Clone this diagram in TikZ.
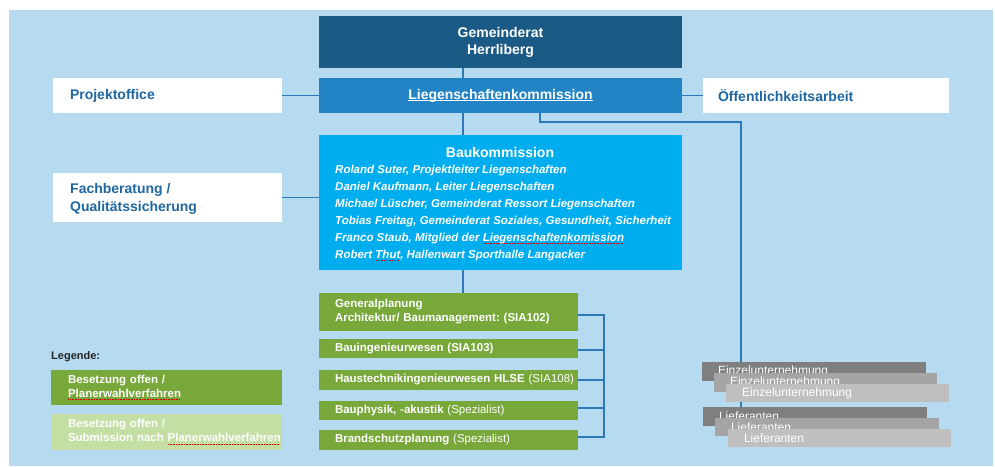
\documentclass[tikz,border=0pt]{standalone}
\usepackage{fontspec}
\setmainfont{Liberation Sans}
\usetikzlibrary{calc}
\frenchspacing
\definecolor{bgblue}{HTML}{B6DBF1}
\definecolor{darkblue}{HTML}{1B5A85}
\definecolor{midblue}{HTML}{2384C5}
\definecolor{cyanblue}{HTML}{00AEEF}
\definecolor{txtblue}{HTML}{1F67A0}
\definecolor{lineblue}{HTML}{2E78B7}
\definecolor{grn}{HTML}{78A83A}
\definecolor{ltgrn}{HTML}{C4DFA3}
\definecolor{gA}{HTML}{7F7F7F}
\definecolor{gB}{HTML}{A5A5A5}
\definecolor{gC}{HTML}{BFBFBF}
\newcommand\spl[1]{\leavevmode\setbox0\hbox{#1}\rlap{\textcolor{red!85!black}{\hbox to \wd0{\leaders\hbox to 1.6pt{\hss\rule[-2.6pt]{0.9pt}{0.5pt}\hss}\hfill}}}\box0}
\newcommand\wul[1]{\leavevmode\setbox0\hbox{#1}\rlap{\rule[-2pt]{\wd0}{0.7pt}}\box0}
\pgfdeclarelayer{back}
\pgfdeclarelayer{lines}
\pgfsetlayers{back,lines,main}
\begin{document}
\begin{tikzpicture}[x=1pt,y=-1pt,
  box/.style={rectangle, inner sep=0pt, outer sep=0pt, anchor=north west},
  hdr/.style={font=\bfseries\fontsize{14}{17}\selectfont},
  whitebox/.style={box, fill=white, text=txtblue, hdr, align=left},
  grnbox/.style={box, fill=grn, text=white, minimum width=259pt, inner xsep=16pt, text width=227pt, align=left, font=\fontsize{11.5}{14}\selectfont},
  stackbox/.style={box, text=white, inner xsep=16pt, align=left, font=\fontsize{12}{14}\selectfont},
  conn/.style={draw=lineblue, line width=1.2pt},
  member/.style={anchor=west, inner sep=0pt, text=white, font=\bfseries\itshape\fontsize{11.5}{13}\selectfont, text height=8pt, text depth=0pt}]
\useasboundingbox (0,0) rectangle (995,466);
\begin{pgfonlayer}{back}
\fill[white] (0,0) rectangle (995,466);
\fill[bgblue] (9,10) rectangle (993,466);
\end{pgfonlayer}

% top column
\node[box, fill=darkblue, text=white, hdr, align=center, minimum width=363pt, minimum height=52pt] (gr) at (319,16) {Gemeinderat\\Herrliberg};
\node[box, fill=midblue, text=white, hdr, align=center, minimum width=363pt, minimum height=35pt] (lk) at (319,78) {\wul{Liegenschaftenkommission}};
\node[whitebox, minimum width=229pt, minimum height=35pt, inner xsep=17pt, text width=195pt] (po) at (53,78) {Projektoffice};
\node[whitebox, minimum width=246pt, minimum height=35pt, inner xsep=15pt, text width=216pt] (oe) at (703,78) {Öffentlichkeitsarbeit};
\node[box, fill=white, minimum width=229pt, minimum height=49pt] (fb) at (53,173) {};
\node[anchor=west, inner sep=0pt, text=txtblue, align=left, font=\bfseries\fontsize{14}{18}\selectfont] (fbt) at (70,199) {Fachberatung /\\Qualitätssicherung};

% Baukommission
\node[box, fill=cyanblue, minimum width=363pt, minimum height=135pt] (bk) at (319,135) {};
\node[text=white, hdr, inner sep=0pt] (bkt) at (500,152) {Baukommission};
\node[member] (m1) at (335,169) {Roland Suter, Projektleiter Liegenschaften};
\node[member] (m2) at (335,186) {Daniel Kaufmann, Leiter Liegenschaften};
\node[member] (m3) at (335,203) {Michael Lüscher, Gemeinderat Ressort Liegenschaften};
\node[member] (m4) at (335,220) {Tobias Freitag, Gemeinderat Soziales, Gesundheit, Sicherheit};
\node[member] (m5) at (335,237) {Franco Staub, Mitglied der \spl{Liegenschaftenkomission}};
\node[member] (m6) at (335,254) {Robert \spl{Thut}, Hallenwart Sporthalle Langacker};

% planners
\node[grnbox, minimum height=38pt] (gp) at (319,293) {\textbf{Generalplanung}\\\textbf{Architektur/ Baumanagement: (SIA102)}};
\node[grnbox, minimum height=19pt] (bi) at (319,339) {\mbox{\textbf{Bauingenieurwesen (SIA103)}}};
\node[grnbox, minimum height=20pt] (ht) at (319,370) {\mbox{\textbf{Haustechnikingenieurwesen HLSE} (SIA108)}};
\node[grnbox, minimum height=19pt] (bp) at (319,401) {\mbox{\textbf{Bauphysik, -akustik} (Spezialist)}};
\node[grnbox, minimum height=20pt] (br) at (319,430) {\mbox{\textbf{Brandschutzplanung} (Spezialist)}};

% legend
\node[anchor=west, inner sep=0pt, text=black!85, font=\bfseries\fontsize{11}{13}\selectfont] (lg) at (51,357) {Legende:};
\node[box, fill=grn, text=white, minimum width=231pt, minimum height=35pt, inner xsep=17pt, text width=197pt, align=left, font=\bfseries\fontsize{11.5}{13.5}\selectfont] (lg1) at (51,370) {Besetzung offen /\\\spl{Planerwahlverfahren}};
\node[box, fill=ltgrn, text=white, minimum width=231pt, minimum height=36pt, inner xsep=17pt, text width=197pt, align=left, font=\bfseries\fontsize{11.5}{14}\selectfont] (lg2) at (51,414) {Besetzung offen /\\\mbox{Submission nach \spl{Planerwahlverfahren}}};

% stacked grey boxes
\node[stackbox, fill=gA, minimum width=224pt, minimum height=19pt, text width=192pt] (e1) at (702,362) {Einzelunternehmung};
\node[stackbox, fill=gB, minimum width=223pt, minimum height=19pt, text width=191pt] (e2) at (714,373) {Einzelunternehmung};
\node[stackbox, fill=gC, minimum width=223pt, minimum height=18pt, text width=191pt] (e3) at (726,384) {Einzelunternehmung};
\node[stackbox, fill=gA, minimum width=224pt, minimum height=19pt, text width=192pt] (l1) at (703,407) {Lieferanten};
\node[stackbox, fill=gB, minimum width=224pt, minimum height=18pt, text width=192pt] (l2) at (715,418) {Lieferanten};
\node[stackbox, fill=gC, minimum width=223pt, minimum height=18pt, text width=191pt] (l3) at (728,429) {Lieferanten};

% connectors
\begin{pgfonlayer}{lines}
\draw[conn] ($(gr.south west)+(144,0)$) -- ($(lk.north west)+(144,0)$);
\draw[conn] ($(lk.south west)+(144,0)$) -- ($(bk.north west)+(144,0)$);
\draw[conn] ($(bk.south west)+(144,0)$) -- ($(gp.north west)+(144,0)$);
\draw[conn] (po.east) -- (lk.west);
\draw[conn] (lk.east) -- (oe.west);
\draw[conn] (fb.east) -- (fb.east -| bk.west);
\draw[conn] ($(lk.south west)+(221,0)$) -- ++(0,9) -| ($(l1.north west)+(38,0)$);
\coordinate (bx) at ($(gp.east)+(26,3)$);
\draw[conn] ($(gp.east)+(0,3)$) -- (bx) |- ($(br.east)+(0,-3)$);
\draw[conn] ($(bi.east)+(0,1.5)$) -- ($(bi.east)+(26,1.5)$);
\draw[conn] (ht.east) -- (ht.east -| bx);
\draw[conn] ($(bp.east)+(0,-2.5)$) -- ($(bp.east)+(26,-2.5)$);
\end{pgfonlayer}
\end{tikzpicture}
\end{document}
